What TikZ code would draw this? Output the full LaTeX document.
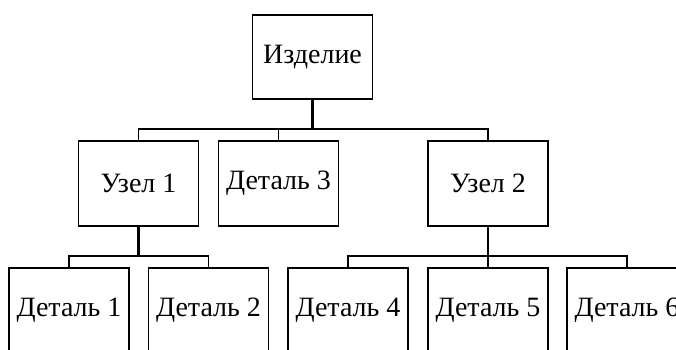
\documentclass[tikz,border=0pt]{standalone}
\usepackage{fontspec}
\setmainfont{Liberation Serif}
\usepackage{tikz}
\usetikzlibrary{calc}
\tikzstyle{partbox}=[rectangle,draw=black,line width=1.6pt,minimum width=120pt,minimum height=85pt,inner sep=0pt,font=\fontsize{28}{32}\selectfont]
\tikzstyle{bus} = [draw,line width=1.6pt]
\tikzstyle{stem} = [draw,line width=2.8pt]

\begin{document}
\begin{tikzpicture}[x=1pt,y=1pt]
    \useasboundingbox (0,0) rectangle (676,349);
    % product on top
    \node[partbox,minimum height=84pt] (root) at (312.5,292) {Изделие};

    % second level
    \foreach \pos/\name/\txt in {{(138.5,165.5)/U1/Узел 1}, {(278.5,165.5)/D3/Деталь 3}, {(488,165.5)/U2/Узел 2}}
        \node[partbox] (\name) at \pos {\txt};

    % third level (cut by the page)
    \foreach \pos/\name/\txt in {{(69,38.5)/D1/Деталь 1}, {(208.5,38.5)/D2/Деталь 2}, {(348,38.5)/D4/Деталь 4}, {(488,38.5)/D5/Деталь 5}, {(627,38.5)/D6/Деталь 6}}
        \node[partbox] (\name) at \pos {\txt};

    % connectors
    \coordinate (B0) at ($(root.south)+(0,-29)$);
    \coordinate (B1) at ($(U1.south)+(0,-29)$);
    \coordinate (B2) at ($(U2.south)+(0,-29)$);

    \path[stem] (root.south) -- (B0);
    \path[bus] (U1.north) |- (B0) -| (U2.north);
    \path[bus] (D3.north) -- (D3.north |- B0);

    \path[stem] (U1.south) -- (B1);
    \path[bus] (D1.north) |- (B1) -| (D2.north);

    \path[stem] (U2.south) -- (B2);
    \path[bus] (D4.north) |- (B2) -| (D6.north);
    \path[bus] (D5.north) -- (B2);
\end{tikzpicture}
\end{document}
